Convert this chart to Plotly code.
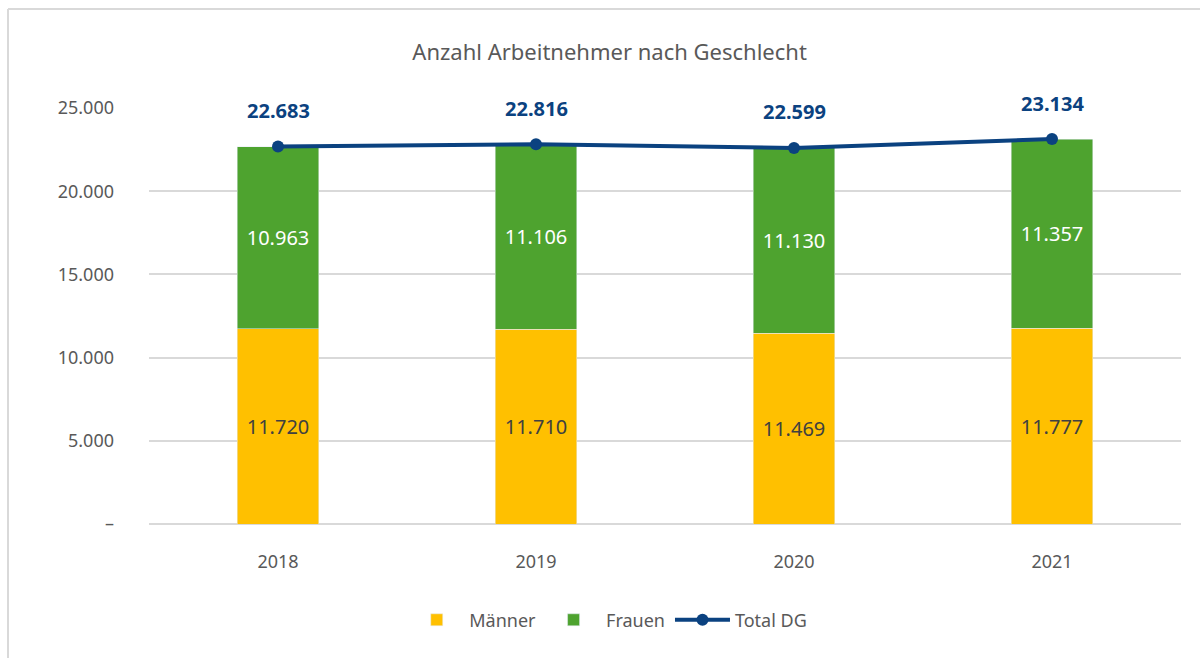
import plotly.graph_objects as go

years = ["2018", "2019", "2020", "2021"]
maenner = [11720, 11710, 11469, 11777]
frauen = [10963, 11106, 11130, 11357]
total = [22683, 22816, 22599, 23134]
ytick_vals = [0, 5000, 10000, 15000, 20000, 25000]
ytick_text = ["–", "5.000", "10.000", "15.000", "20.000", "25.000"]

def de(n):
    return f"{n:,}".replace(",", ".")

FONT = "Noto Sans"
GRAY = "#595959"
BLUE = "#0b4280"
BORDER = "#d9d9d9"
xpos = list(range(len(years)))

fig = go.Figure()
fig.add_trace(go.Bar(
    x=xpos, y=maenner, name="Männer", marker_color="#FFC000",
    text=[de(v) for v in maenner], textposition="inside", insidetextanchor="middle",
    textfont=dict(color="#404040", size=20, family=FONT), width=0.314,
))
fig.add_trace(go.Bar(
    x=xpos, y=frauen, name="Frauen", marker_color="#4EA32F",
    text=[de(v) for v in frauen], textposition="inside", insidetextanchor="middle",
    textfont=dict(color="white", size=20, family=FONT), width=0.314,
))
fig.add_trace(go.Scatter(
    x=xpos, y=total, name="Total DG", mode="lines+markers",
    line=dict(color=BLUE, width=4), marker=dict(color=BLUE, size=12),
))
for x, v in zip(xpos, total):
    fig.add_annotation(x=x, y=v, text=f"<b>{de(v)}</b>", showarrow=False,
                       yshift=36, font=dict(color=BLUE, size=20, family=FONT))

fig.update_layout(
    barmode="stack",
    width=1200, height=658,
    paper_bgcolor="white", plot_bgcolor="white",
    margin=dict(l=149, r=19, t=108, b=134, autoexpand=False),
    title=dict(text="Anzahl Arbeitnehmer nach Geschlecht", x=0.508, xanchor="center",
               y=1 - 52 / 658, yanchor="middle",
               font=dict(size=22, color=GRAY, family=FONT)),
    font=dict(family=FONT, color=GRAY, size=18),
    legend=dict(orientation="h", x=0.445, xanchor="center", y=-0.231, yanchor="middle",
                font=dict(size=18, color=GRAY, family=FONT), traceorder="normal",
                itemwidth=55),
    yaxis=dict(range=[0, 25000], tickvals=ytick_vals, ticktext=ytick_text, automargin=False,
               gridcolor="#d9d9d9", gridwidth=1.5, zeroline=True, zerolinecolor="#d9d9d9",
               zerolinewidth=2, ticks="", ticklabelstandoff=34,
               tickfont=dict(size=18, color=GRAY)),
    xaxis=dict(range=[-0.5, 3.5], tickvals=xpos, ticktext=years, showline=False,
               showgrid=False, zeroline=False, automargin=False, ticks="outside",
               ticklen=21, tickcolor="rgba(0,0,0,0)",
               tickfont=dict(size=18, color=GRAY)),
    shapes=[
        dict(type="line", xref="paper", yref="paper",
             x0=(8 - 149) / 1032, x1=(8 - 149) / 1032,
             y0=(0 - 134) / 416, y1=(649 - 134) / 416,
             line=dict(color=BORDER, width=2)),
        dict(type="line", xref="paper", yref="paper",
             x0=(8 - 149) / 1032, x1=(1200 - 149) / 1032,
             y0=(649 - 134) / 416, y1=(649 - 134) / 416,
             line=dict(color=BORDER, width=2)),
    ],
)

fig.write_html("out.html", post_script="document.body.style.margin='0';",
               config={"displayModeBar": False})
